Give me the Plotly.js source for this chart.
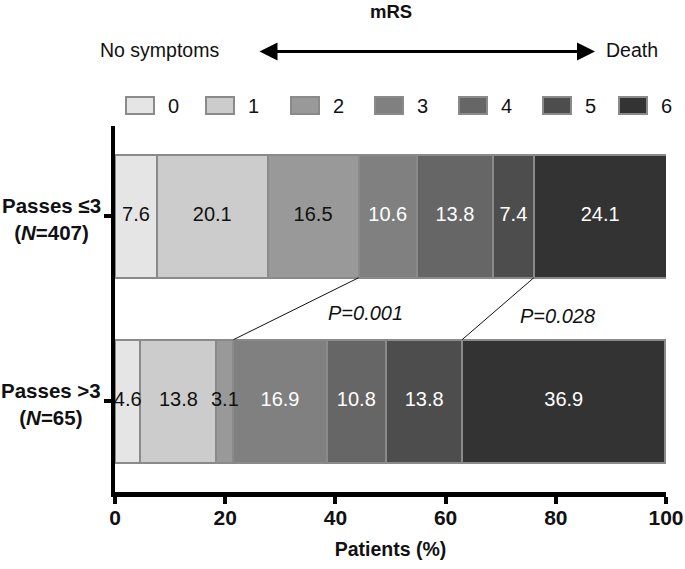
<!DOCTYPE html>
<html>
<head>
<meta charset="utf-8">
<script src="https://cdn.plot.ly/plotly-3.0.1.min.js"></script>
<style>
  html, body { margin: 0; padding: 0; background: #ffffff; }
  #chart { width: 685px; height: 569px; }
</style>
</head>
<body>
<div id="chart"></div>
<script>
// ---- data ----
const groups = ['Passes ≤3', 'Passes >3'];
const groupN = [407, 65];
const mrsLevels = ['0', '1', '2', '3', '4', '5', '6'];
const mrs0 = [7.6, 4.6];
const mrs1 = [20.1, 13.8];
const mrs2 = [16.5, 3.1];
const mrs3 = [10.6, 16.9];
const mrs4 = [13.8, 10.8];
const mrs5 = [7.4, 13.8];
const mrs6 = [24.1, 36.9];
const pLabels = ['P=0.001', 'P=0.028'];
const pBoundaryAfterLevel = [2, 5];   // comparison boundary: after mRS 2 and after mRS 5
const xTicks = [0, 20, 40, 60, 80, 100];

// ---- style ----
const FONT = 'Liberation Sans, Arial, Helvetica, sans-serif';
const fills = ['#e5e5e5', '#cccccc', '#999999', '#808080', '#666666', '#4d4d4d', '#333333'];
const textColors = ['#111111', '#111111', '#111111', '#ffffff', '#ffffff', '#ffffff', '#ffffff'];
const edge = '#8a8a8a';
const barWidth = 0.665;

const W = 685, H = 569;
const M = { l: 115, r: 19, t: 126, b: 76.5 };
const PW = W - M.l - M.r, PH = H - M.t - M.b;
const fx = p => (p - M.l) / PW;
const fy = p => (H - M.b - p) / PH;

const allSeries = [mrs0, mrs1, mrs2, mrs3, mrs4, mrs5, mrs6];
const catOrder = [groups[1], groups[0]];   // bottom to top

const barTraces = allSeries.map((vals, i) => ({
  type: 'bar',
  orientation: 'h',
  name: mrsLevels[i],
  x: vals,
  y: groups,
  width: barWidth,
  marker: { color: fills[i], line: { color: edge, width: 2 } },
  textposition: 'none',
  showlegend: false,
  hoverinfo: 'skip'
}));

// cumulative helpers
function cumBefore(gi, level) {
  let s = 0;
  for (let k = 0; k < level; k++) s += allSeries[k][gi];
  return s;
}
function cumAfter(gi, level) { return cumBefore(gi, level + 1); }

// value labels drawn on top of all bars
const labelTraces = allSeries.map((vals, i) => ({
  type: 'scatter',
  mode: 'text',
  x: vals.map((v, gi) => cumBefore(gi, i) + v / 2),
  y: groups,
  text: vals.map(v => v.toFixed(1)),
  textposition: 'middle center',
  textfont: { family: FONT, size: 20, color: textColors[i] },
  cliponaxis: false,
  showlegend: false,
  hoverinfo: 'skip'
}));

const topIdx = catOrder.indexOf(groups[0]);
const botIdx = catOrder.indexOf(groups[1]);

const shapes = [];
const annotations = [];

pBoundaryAfterLevel.forEach(lv => {
  shapes.push({
    type: 'line', xref: 'x', yref: 'y',
    x0: cumAfter(0, lv), y0: topIdx - barWidth / 2,
    x1: cumAfter(1, lv), y1: botIdx + barWidth / 2,
    line: { color: '#111111', width: 1 }
  });
});

// P value labels
const pPos = [[365.5, 313], [557.5, 316]];
pLabels.forEach((t, i) => {
  annotations.push({
    xref: 'paper', yref: 'paper', x: fx(pPos[i][0]), y: fy(pPos[i][1]),
    xanchor: 'center', yanchor: 'middle', showarrow: false,
    text: '<i>' + t + '</i>',
    font: { family: FONT, size: 20, color: '#111111' }
  });
});

// group labels (centred two-line labels)
groups.forEach((g, gi) => {
  annotations.push({
    xref: 'paper', yref: 'y', x: fx(51), y: catOrder.indexOf(g),
    xanchor: 'center', yanchor: 'middle', align: 'center', showarrow: false,
    text: '<b>' + g + '<br>(<i>N</i>=' + groupN[gi] + ')</b>',
    font: { family: FONT, size: 20.5, color: '#111111' },
    yshift: -3
  });
});

// header: mRS + arrow
annotations.push({
  xref: 'paper', yref: 'paper', x: fx(391), y: fy(11),
  xanchor: 'center', yanchor: 'middle', showarrow: false,
  text: '<b>mRS</b>', font: { family: FONT, size: 18.5, color: '#111111' }
});
annotations.push({
  xref: 'paper', yref: 'paper', x: fx(159), y: fy(50),
  xanchor: 'center', yanchor: 'middle', showarrow: false,
  text: 'No symptoms', font: { family: FONT, size: 19.5, color: '#111111' }
});
annotations.push({
  xref: 'paper', yref: 'paper', x: fx(632), y: fy(50),
  xanchor: 'center', yanchor: 'middle', showarrow: false,
  text: 'Death', font: { family: FONT, size: 19.5, color: '#111111' }
});
annotations.push({
  xref: 'paper', yref: 'paper', x: fx(595), y: fy(51.5),
  axref: 'pixel', ayref: 'pixel', ax: -(595 - 258), ay: 0,
  text: '', showarrow: true,
  arrowside: 'end+start',
  arrowhead: 2, startarrowhead: 2,
  arrowsize: 1.2, startarrowsize: 1.2,
  arrowwidth: 3, arrowcolor: '#000000',
  standoff: 0, startstandoff: 0
});

// custom legend
const legendLeftPx = [126, 206, 291, 375, 459, 543, 619];
const swW = 28, swTop = 97, swBot = 114;
mrsLevels.forEach((lv, i) => {
  shapes.push({
    type: 'rect', xref: 'paper', yref: 'paper',
    x0: fx(legendLeftPx[i]), x1: fx(legendLeftPx[i] + swW),
    y0: fy(swBot), y1: fy(swTop),
    fillcolor: fills[i], line: { color: edge, width: 2 }
  });
  annotations.push({
    xref: 'paper', yref: 'paper', x: fx(legendLeftPx[i] + swW + 19), y: fy(105.5),
    xanchor: 'center', yanchor: 'middle', showarrow: false,
    text: lv, font: { family: FONT, size: 20, color: '#111111' }
  });
});

const layout = {
  width: W, height: H,
  margin: M,
  paper_bgcolor: '#ffffff', plot_bgcolor: '#ffffff',
  barmode: 'stack',
  showlegend: false,
  font: { family: FONT, color: '#111111' },
  xaxis: {
    range: [0, 100],
    tickvals: xTicks, ticktext: xTicks.map(String),
    ticks: 'outside', ticklen: 7, tickwidth: 4, tickcolor: '#000000',
    ticklabelstandoff: -4,
    showline: true, linewidth: 4.5, linecolor: '#000000',
    showgrid: false, zeroline: false,
    tickfont: { family: FONT, size: 21, weight: 'bold', color: '#111111' },
    title: { text: 'Patients (%)', font: { family: FONT, size: 19.5, weight: 'bold', color: '#111111' }, standoff: 16 },
    fixedrange: true
  },
  yaxis: {
    type: 'category',
    categoryorder: 'array', categoryarray: catOrder,
    range: [-0.492, 1.489],
    ticks: 'outside', ticklen: 7, tickwidth: 4, tickcolor: '#000000',
    showticklabels: false,
    showline: true, linewidth: 4.5, linecolor: '#000000',
    showgrid: false, zeroline: false,
    fixedrange: true
  },
  shapes: shapes,
  annotations: annotations
};

Plotly.newPlot('chart', barTraces.concat(labelTraces), layout, { staticPlot: true, displayModeBar: false });
</script>
</body>
</html>
